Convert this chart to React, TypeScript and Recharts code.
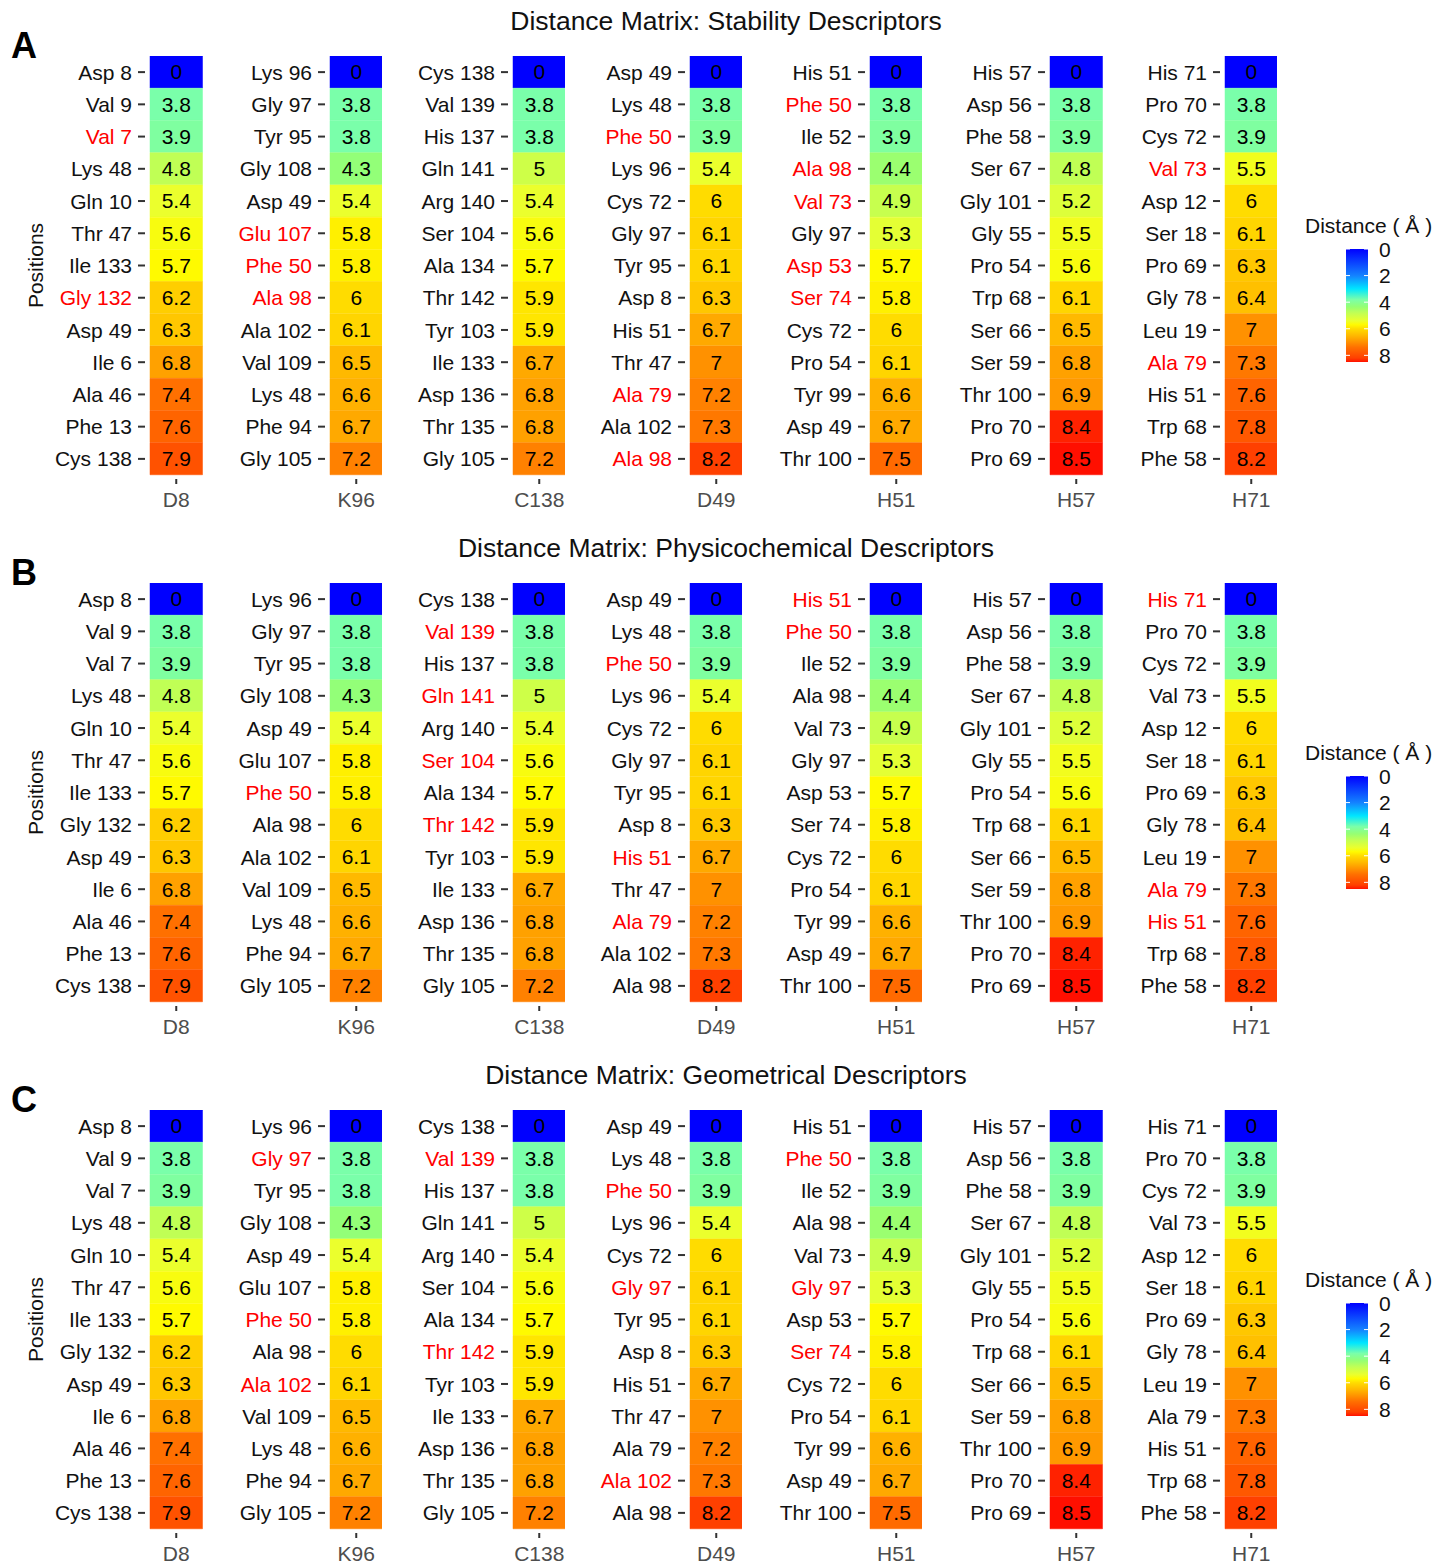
import React from "react";
import { Bar, BarChart, Cell, LabelList, XAxis, YAxis } from "recharts";

const COLUMNS = ["D8", "K96", "C138", "D49", "H51", "H57", "H71"];

const RESIDUES: string[][] = [
  ["Asp 8", "Val 9", "Val 7", "Lys 48", "Gln 10", "Thr 47", "Ile 133", "Gly 132", "Asp 49", "Ile 6", "Ala 46", "Phe 13", "Cys 138"],
  ["Lys 96", "Gly 97", "Tyr 95", "Gly 108", "Asp 49", "Glu 107", "Phe 50", "Ala 98", "Ala 102", "Val 109", "Lys 48", "Phe 94", "Gly 105"],
  ["Cys 138", "Val 139", "His 137", "Gln 141", "Arg 140", "Ser 104", "Ala 134", "Thr 142", "Tyr 103", "Ile 133", "Asp 136", "Thr 135", "Gly 105"],
  ["Asp 49", "Lys 48", "Phe 50", "Lys 96", "Cys 72", "Gly 97", "Tyr 95", "Asp 8", "His 51", "Thr 47", "Ala 79", "Ala 102", "Ala 98"],
  ["His 51", "Phe 50", "Ile 52", "Ala 98", "Val 73", "Gly 97", "Asp 53", "Ser 74", "Cys 72", "Pro 54", "Tyr 99", "Asp 49", "Thr 100"],
  ["His 57", "Asp 56", "Phe 58", "Ser 67", "Gly 101", "Gly 55", "Pro 54", "Trp 68", "Ser 66", "Ser 59", "Thr 100", "Pro 70", "Pro 69"],
  ["His 71", "Pro 70", "Cys 72", "Val 73", "Asp 12", "Ser 18", "Pro 69", "Gly 78", "Leu 19", "Ala 79", "His 51", "Trp 68", "Phe 58"],
];

const DISTANCES: number[][] = [
  [0, 3.8, 3.9, 4.8, 5.4, 5.6, 5.7, 6.2, 6.3, 6.8, 7.4, 7.6, 7.9],
  [0, 3.8, 3.8, 4.3, 5.4, 5.8, 5.8, 6, 6.1, 6.5, 6.6, 6.7, 7.2],
  [0, 3.8, 3.8, 5, 5.4, 5.6, 5.7, 5.9, 5.9, 6.7, 6.8, 6.8, 7.2],
  [0, 3.8, 3.9, 5.4, 6, 6.1, 6.1, 6.3, 6.7, 7, 7.2, 7.3, 8.2],
  [0, 3.8, 3.9, 4.4, 4.9, 5.3, 5.7, 5.8, 6, 6.1, 6.6, 6.7, 7.5],
  [0, 3.8, 3.9, 4.8, 5.2, 5.5, 5.6, 6.1, 6.5, 6.8, 6.9, 8.4, 8.5],
  [0, 3.8, 3.9, 5.5, 6, 6.1, 6.3, 6.4, 7, 7.3, 7.6, 7.8, 8.2],
];

const TITLES = [
  "Distance Matrix: Stability Descriptors",
  "Distance Matrix: Physicochemical Descriptors",
  "Distance Matrix: Geometrical Descriptors",
];
const LETTERS = ["A", "B", "C"];

// residues printed in red, per panel, per column
const RED_STABILITY = [
  ["Val 7", "Gly 132"],
  ["Glu 107", "Phe 50", "Ala 98"],
  [],
  ["Phe 50", "Ala 79", "Ala 98"],
  ["Phe 50", "Ala 98", "Val 73", "Asp 53", "Ser 74"],
  [],
  ["Val 73", "Ala 79"],
];
const RED_PHYSICO = [
  [],
  ["Phe 50"],
  ["Val 139", "Gln 141", "Ser 104", "Thr 142"],
  ["Phe 50", "His 51", "Ala 79"],
  ["His 51", "Phe 50"],
  [],
  ["His 71", "Ala 79", "His 51"],
];
const RED_GEOMETRIC = [
  [],
  ["Gly 97", "Phe 50", "Ala 102"],
  ["Val 139", "Thr 142"],
  ["Phe 50", "Gly 97", "Ala 102"],
  ["Phe 50", "Gly 97", "Ser 74"],
  [],
  [],
];
const RED = [RED_STABILITY, RED_PHYSICO, RED_GEOMETRIC];

const LEGEND_TICKS = [0, 2, 4, 6, 8];
const LEGEND_MAX = 8.5;

// colour scale (value -> rgb)
const COLOR_STOPS: [number, number, number, number][] = [
  [0, 0, 0, 255],
  [2, 20, 130, 255],
  [3, 0, 230, 255],
  [3.8, 122, 255, 170],
  [4.35, 150, 255, 115],
  [4.8, 192, 255, 85],
  [5.4, 235, 255, 45],
  [5.7, 255, 250, 0],
  [6, 255, 220, 0],
  [6.5, 255, 185, 0],
  [7, 255, 145, 0],
  [7.4, 255, 112, 0],
  [7.9, 255, 82, 0],
  [8.2, 255, 64, 0],
  [8.4, 255, 34, 0],
  [8.5, 255, 15, 0],
];

function color(v: number) {
  let i = 0;
  while (i < COLOR_STOPS.length - 2 && v > COLOR_STOPS[i + 1][0]) i++;
  const a = COLOR_STOPS[i];
  const b = COLOR_STOPS[i + 1];
  const t = Math.max(0, Math.min(1, (v - a[0]) / (b[0] - a[0])));
  const c = [1, 2, 3].map((k) => Math.round(a[k] + (b[k] - a[k]) * t));
  return `rgb(${c[0]},${c[1]},${c[2]})`;
}

const FONT = "'Liberation Sans', Arial, Helvetica, sans-serif";
const CELL_X = [150, 329.5, 512.5, 689.5, 869.5, 1050, 1224.5];
const CELL_W = 52.5;
const PANEL_TOP = [56, 583, 1110];
const PLOT_H = 419;
const YW = 140;
const XH = 45;

function YTick(props: any) {
  const { y, payload, reds } = props;
  const isRed = reds.includes(payload.value);
  return (
    <g>
      <line x1={YW - 12} x2={YW - 5} y1={y} y2={y} stroke="#333" strokeWidth={2} />
      <text
        x={YW - 18}
        y={y}
        dy="0.36em"
        textAnchor="end"
        fontSize={21}
        fontFamily={FONT}
        fill={isRed ? "#FF0000" : "#111"}
      >
        {payload.value}
      </text>
    </g>
  );
}

function XTick(props: any) {
  const { x, label } = props;
  return (
    <g>
      <line x1={x} x2={x} y1={PLOT_H + 4} y2={PLOT_H + 9} stroke="#333" strokeWidth={2} />
      <text x={x} y={PLOT_H + 32} textAnchor="middle" fontSize={21} fontFamily={FONT} fill="#4D4D4D">
        {label}
      </text>
    </g>
  );
}

function ColumnChart({ panel, col }: { panel: number; col: number }) {
  const data = RESIDUES[col].map((name, i) => ({ name, value: DISTANCES[col][i], span: 1 }));
  const reds = RED[panel][col];
  return (
    <div style={{ position: "absolute", left: CELL_X[col] - YW, top: PANEL_TOP[panel] }}>
      <BarChart
        width={YW + CELL_W}
        height={PLOT_H + XH}
        data={data}
        layout="vertical"
        margin={{ top: 0, right: 0, bottom: 0, left: 0 }}
        barCategoryGap={0}
      >
        <XAxis
          type="number"
          domain={[0, 1]}
          ticks={[0.5]}
          height={XH}
          axisLine={false}
          tickLine={false}
          interval={0}
          tick={(p: any) => <XTick {...p} label={COLUMNS[col]} />}
        />
        <YAxis
          type="category"
          dataKey="name"
          width={YW}
          axisLine={false}
          tickLine={false}
          interval={0}
          tick={(p: any) => <YTick {...p} reds={reds} />}
        />
        <Bar dataKey="span" isAnimationActive={false}>
          {data.map((d, i) => (
            <Cell key={i} fill={color(d.value)} stroke={color(d.value)} strokeWidth={0.5} />
          ))}
          <LabelList dataKey="value" position="center" fill="#000" fontSize={21} fontFamily={FONT} />
        </Bar>
      </BarChart>
    </div>
  );
}

function Decorations() {
  const barTop = 193;
  const barH = 113;
  return (
    <svg
      width={1451}
      height={1564}
      style={{ position: "absolute", left: 0, top: 0, pointerEvents: "none" }}
      fontFamily={FONT}
    >
      <defs>
        <linearGradient id="distGrad" x1="0" y1="0" x2="0" y2="1">
          {COLOR_STOPS.map((s, i) => (
            <stop key={i} offset={s[0] / LEGEND_MAX} stopColor={color(s[0])} />
          ))}
        </linearGradient>
      </defs>
      {PANEL_TOP.map((top, p) => (
        <g key={p}>
          <text x={726} y={top - 36} dy="0.36em" textAnchor="middle" fontSize={26.5} fill="#111">
            {TITLES[p]}
          </text>
          <text x={11} y={top - 11} dy="0.36em" fontSize={36} fontWeight="bold" fill="#000">
            {LETTERS[p]}
          </text>
          <text
            transform={`translate(35, ${top + PLOT_H / 2}) rotate(-90)`}
            dy="0.36em"
            textAnchor="middle"
            fontSize={21}
            fill="#111"
          >
            Positions
          </text>
          <text x={1305} y={top + 169} dy="0.36em" fontSize={21} fill="#111">
            Distance ( Å )
          </text>
          <rect x={1346} y={top + barTop} width={22} height={barH} fill="url(#distGrad)" />
          {LEGEND_TICKS.map((t) => {
            const ty = top + barTop + (t / LEGEND_MAX) * barH;
            return (
              <g key={t}>
                <line x1={1346} x2={1350} y1={ty} y2={ty} stroke="#fff" strokeWidth={1} />
                <line x1={1364} x2={1368} y1={ty} y2={ty} stroke="#fff" strokeWidth={1} />
                <text x={1379} y={ty} dy="0.36em" fontSize={21} fill="#111">
                  {t}
                </text>
              </g>
            );
          })}
        </g>
      ))}
    </svg>
  );
}

export default function App() {
  return (
    <div
      style={{
        position: "absolute",
        left: 0,
        top: 0,
        width: 1451,
        height: 1564,
        background: "#fff",
        fontFamily: FONT,
      }}
    >
      <Decorations />
      {PANEL_TOP.map((_, p) =>
        COLUMNS.map((_c, col) => <ColumnChart key={`${p}-${col}`} panel={p} col={col} />)
      )}
    </div>
  );
}
